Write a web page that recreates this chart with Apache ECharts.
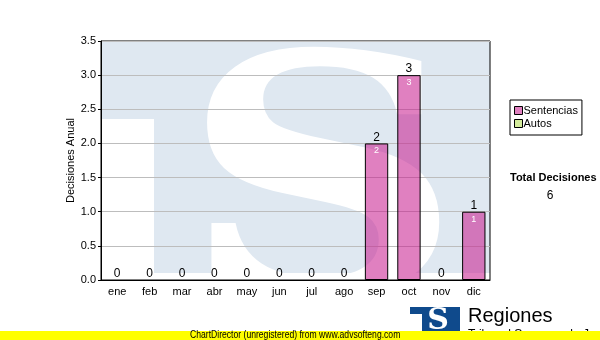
<!DOCTYPE html>
<html><head><meta charset="utf-8">
<script src="https://cdn.jsdelivr.net/npm/echarts@6/dist/echarts.min.js"></script>
<style>html,body{margin:0;padding:0;background:#fff}#c{width:600px;height:340px}</style>
</head><body><div id="c"></div>
<script>
var categories = ['ene','feb','mar','abr','may','jun','jul','ago','sep','oct','nov','dic'];
var sentencias = [0,0,0,0,0,0,0,0,2,3,0,1];
var autos = [0,0,0,0,0,0,0,0,0,0,0,0];
var yTicks = [0,0.5,1,1.5,2,2.5,3,3.5];
var seriesNames = ['Sentencias','Autos'];
var totalLabel = 'Total Decisiones';

var totals = categories.map(function(c,i){return sentencias[i]+autos[i];});
var grandTotal = totals.reduce(function(a,b){return a+b;},0);
var FONT = 'Liberation Sans';
var PINK = 'rgba(200,29,143,0.56)';
var LEGEND_PINK = '#e080c0';
var GREEN = '#d4ec9c';
var BG_BLUE = '#dfe8f1';

function withBorder(arr){
  return arr.map(function(v){return {value:v, itemStyle:{borderWidth: v>0?1:0}};});
}

var chart = echarts.init(document.getElementById('c'), null, {renderer:'canvas'});
chart.setOption({
  animation:false,
  textStyle:{fontFamily:FONT},
  grid:{left:101,top:41,right:110,bottom:60,show:true,borderColor:'#000',borderWidth:1,backgroundColor:'transparent'},
  legend:{
    orient:'vertical', left:510, top:100,
    data:[
      {name:seriesNames[0], itemStyle:{color:LEGEND_PINK,borderColor:'#000',borderWidth:1}},
      {name:seriesNames[1], itemStyle:{color:GREEN,borderColor:'#000',borderWidth:1}}
    ],
    icon:'rect', itemWidth:8, itemHeight:8, itemGap:2,
    borderColor:'#000', borderWidth:1, padding:[5,4,6,4],
    textStyle:{fontSize:11,color:'#000',fontFamily:FONT,padding:[0,0,0,-4]}
  },
  xAxis:{
    type:'category', data:categories,
    axisLine:{lineStyle:{color:'#000'}},
    axisTick:{alignWithLabel:true,length:3,lineStyle:{color:'#000'}},
    axisLabel:{color:'#000',fontSize:11,margin:6,fontFamily:FONT}
  },
  yAxis:{
    type:'value', min:yTicks[0], max:yTicks[yTicks.length-1], interval:0.5,
    name:'Decisiones Anual', nameLocation:'middle', nameGap:25, nameMoveOverlap:false,
    nameTextStyle:{color:'#000',fontSize:11,fontFamily:FONT},
    axisLine:{show:true,lineStyle:{color:'#000'}},
    axisTick:{show:true,length:3,lineStyle:{color:'#000'}},
    axisLabel:{color:'#000',fontSize:11,margin:5,fontFamily:FONT,formatter:function(v){return v.toFixed(1);}},
    splitLine:{lineStyle:{color:'#bdbdbd',width:1}}
  },
  series:[
    {name:seriesNames[0], type:'bar', stack:'t', data:withBorder(sentencias), barWidth:'72%', z:3,
     itemStyle:{color:PINK,borderColor:'#000',borderWidth:1},
     label:{show:true,position:'insideTop',distance:3,color:'#fff',fontSize:9,fontFamily:FONT,
       formatter:function(p){return p.value>0?String(p.value):'';}}},
    {name:seriesNames[1], type:'bar', stack:'t', data:autos, barWidth:'72%', z:3,
     itemStyle:{color:GREEN,borderWidth:0},
     label:{show:true,position:'top',distance:0,color:'#000',fontSize:12,fontFamily:FONT,
       formatter:function(p){return String(totals[p.dataIndex]);}}}
  ],
  graphic:[
    {type:'rect', z:-10, silent:true, shape:{x:101,y:41,width:389,height:232}, style:{fill:BG_BLUE}},
    {type:'rect', z:-9, silent:true, shape:{x:101,y:119,width:53,height:161}, style:{fill:'#fff'}},
    {type:'text', z:-9, silent:true, x:322, y:206, scaleX:1.18, scaleY:1,
      style:{text:'S', x:0, y:0, textAlign:'center', textVerticalAlign:'middle',
      font:'bold 330px "DejaVu Serif"', fill:'#fff'}},
    {type:'text', style:{text:totalLabel, x:510, y:178, textVerticalAlign:'middle', font:'bold 11px "Liberation Sans"', fill:'#000'}},
    {type:'text', style:{text:String(grandTotal), x:550, y:196, textAlign:'center', textVerticalAlign:'middle', font:'12px "Liberation Sans"', fill:'#000'}},
    {type:'rect', z:5, shape:{x:410,y:307,width:50,height:24}, style:{fill:'#0f4a8c'}},
    {type:'rect', z:6, shape:{x:410,y:314,width:12,height:17}, style:{fill:'#fff'}},
    {type:'text', z:6, style:{text:'S', x:438, y:321, textAlign:'center', textVerticalAlign:'middle', font:'bold 30px "DejaVu Serif"', fill:'#fff'}},
    {type:'text', z:6, style:{text:'Regiones', x:468, y:316, textVerticalAlign:'middle', font:'20px "Liberation Sans"', fill:'#000'}},
    {type:'text', z:6, style:{text:'Tribunal Supremo de Justicia', x:468, y:335, textVerticalAlign:'middle', font:'12px "Liberation Sans"', fill:'#000'}},
    {type:'rect', z:10, shape:{x:0,y:331,width:600,height:9}, style:{fill:'#ffff00'}},
    {type:'text', z:11, x:190, y:335.5, scaleX:0.86,
      style:{text:'ChartDirector (unregistered) from www.advsofteng.com', x:0, y:0, textVerticalAlign:'middle', font:'10px "Liberation Sans"', fill:'#000'}}
  ]
});
</script></body></html>
